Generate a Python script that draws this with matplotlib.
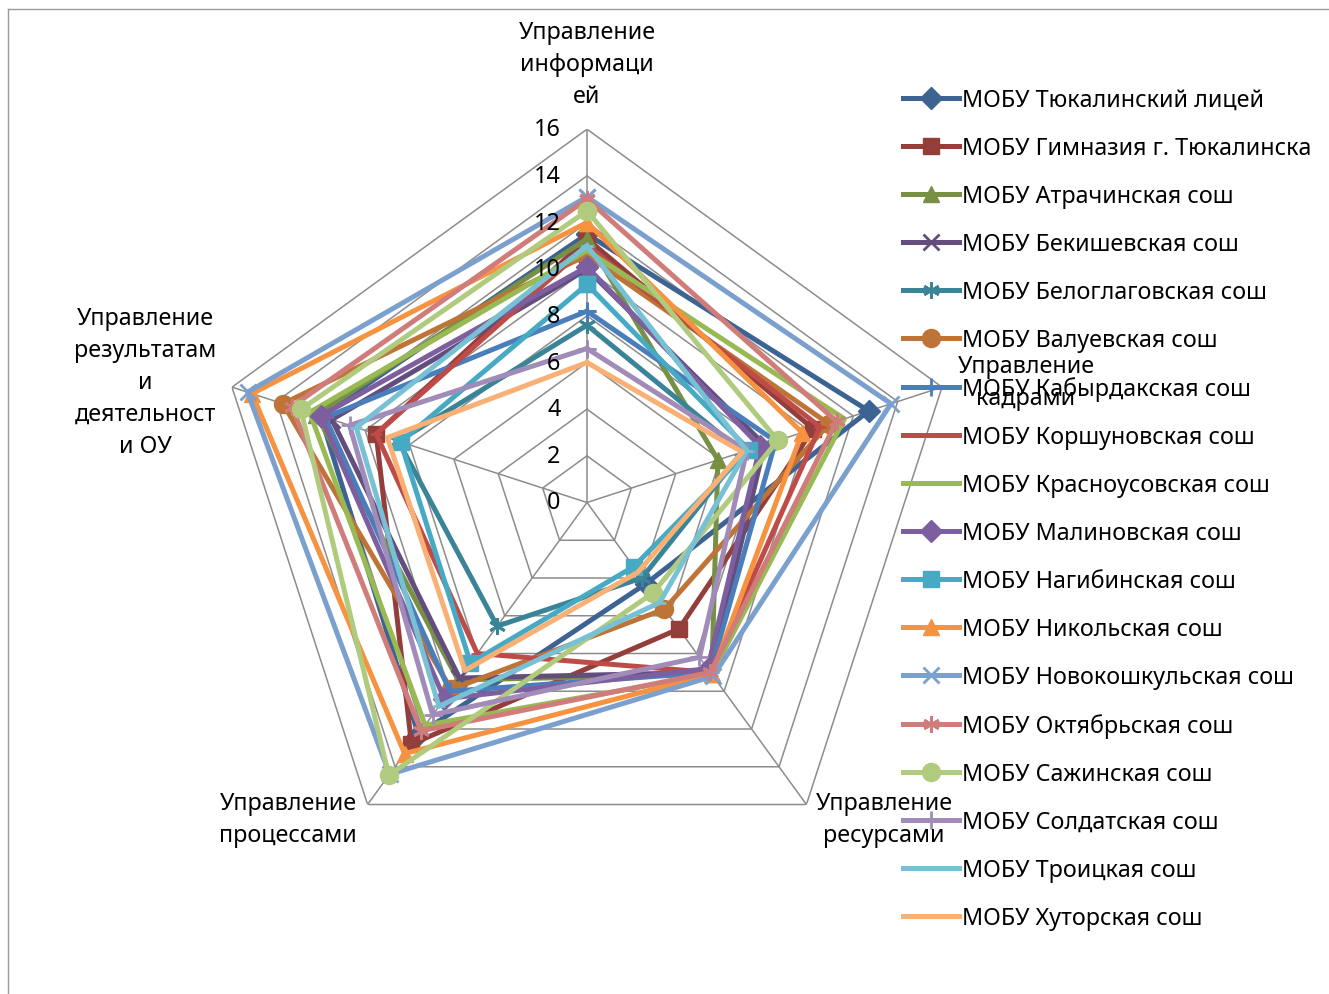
import numpy as np
import matplotlib
matplotlib.use('Agg')
import matplotlib.pyplot as plt
from matplotlib.lines import Line2D

plt.rcParams['font.family'] = ['Noto Sans', 'DejaVu Sans']

# ---------------- data ----------------
categories = ["Управление\nинформаци\nей", "Управление\nкадрами", "Управление\nресурсами",
              "Управление\nпроцессами", "Управление\nрезультатам\nи\nдеятельност\nи ОУ"]
schools = ["МОБУ Тюкалинский лицей", "МОБУ Гимназия г. Тюкалинска", "МОБУ Атрачинская сош",
           "МОБУ Бекишевская сош", "МОБУ Белоглаговская сош", "МОБУ Валуевская сош",
           "МОБУ Кабырдакская сош", "МОБУ Коршуновская сош", "МОБУ Красноусовская сош",
           "МОБУ Малиновская сош", "МОБУ Нагибинская сош", "МОБУ Никольская сош",
           "МОБУ Новокошкульская сош", "МОБУ Октябрьская сош", "МОБУ Сажинская сош",
           "МОБУ Солдатская сош", "МОБУ Троицкая сош", "МОБУ Хуторская сош"]
tyukalinsky = [11.5, 12.7, 4.3, 12.3, 12.0]
gimnazia = [11.3, 10.2, 6.7, 12.8, 9.5]
atrachinskaya = [11.3, 5.9, 9.1, 9.4, 12.2]
bekishevskaya = [10.0, 8.0, 9.0, 9.3, 11.5]
beloglagovskaya = [7.6, 7.0, 4.0, 6.55, 8.5]
valuevskaya = [10.6, 10.9, 5.65, 9.9, 13.7]
kabyrdakskaya = [8.2, 8.5, 9.0, 10.0, 11.8]
korshunovskaya = [11.0, 10.5, 9.0, 8.0, 9.5]
krasnousovskaya = [10.8, 11.6, 9.1, 11.8, 12.5]
malinovskaya = [10.1, 7.8, 8.8, 10.4, 12.0]
nagibinskaya = [9.35, 7.3, 3.4, 8.5, 8.4]
nikolskaya = [12.0, 9.7, 9.1, 13.3, 15.1]
novokoshkulskaya = [13.1, 13.7, 9.2, 14.4, 15.3]
oktyabrskaya = [13.0, 11.25, 9.0, 12.1, 13.3]
sazhinskaya = [12.5, 8.6, 4.8, 14.45, 12.9]
soldatskaya = [6.6, 7.2, 8.2, 11.25, 10.7]
troitskaya = [11.0, 7.2, 5.3, 10.8, 10.4]
khutorskaya = [6.0, 7.0, 3.7, 8.9, 9.0]
ticks = [0, 2, 4, 6, 8, 10, 12, 14, 16]

series = [tyukalinsky, gimnazia, atrachinskaya, bekishevskaya, beloglagovskaya, valuevskaya,
          kabyrdakskaya, korshunovskaya, krasnousovskaya, malinovskaya, nagibinskaya, nikolskaya,
          novokoshkulskaya, oktyabrskaya, sazhinskaya, soldatskaya, troitskaya, khutorskaya]

# ---------------- styles ----------------
colors = ["#3D6392", "#943E3B", "#779044", "#634D7D", "#3A8498", "#BE7436",
          "#4A7EBB", "#BE4B48", "#98B954", "#7D5FA0", "#46AAC5", "#F69240",
          "#7BA0CD", "#D07C7A", "#B0CB7E", "#A08BB9", "#78C1D4", "#F9B074"]
star = (6, 2, 0)
markers = ['D', 's', '^', 'x', star, 'o', '+', '_', 'None'] * 2
msizes = [11, 11, 12, 11, 12, 13, 13, 8, 0] * 2

W, H = 1329, 995
fig = plt.figure(figsize=(W / 100, H / 100), dpi=100)
FS = 16.8

cx, cy, R = 587, 503.5, 373.3
ax = fig.add_axes([(cx - R) / W, (H - cy - R) / H, 2 * R / W, 2 * R / H], projection='polar')
ax.set_theta_offset(np.pi / 2)
ax.set_theta_direction(-1)
ax.set_ylim(0, 16)
ax.grid(False)
ax.spines['polar'].set_visible(False)
ax.set_xticks([])
ax.set_yticks([])
ax.patch.set_visible(False)

n = len(categories)
theta = np.arange(n) * 2 * np.pi / n
theta_c = np.append(theta, theta[0])

grid_col = '#8C8C8C'
for lev in ticks[1:]:
    ax.plot(theta_c, [lev] * (n + 1), color=grid_col, lw=1.1, zorder=1)
for t in theta:
    ax.plot([t, t], [0, 16], color=grid_col, lw=1.1, zorder=1)

for v in ticks:
    ax.annotate(str(v), xy=(0, v), xytext=(-19, 0), textcoords='offset points',
                ha='right', va='center', fontsize=FS, color='#000000', zorder=100)

handles = []
for i, (vals, col) in enumerate(zip(series, colors)):
    mk = markers[i]
    mew = 2.0 if mk in ('x', '+', '_') or mk == star else 1.0
    ax.plot(theta_c, list(vals) + [vals[0]], color=col, lw=3.6, marker=mk,
            markersize=msizes[i], markerfacecolor=col, markeredgecolor=col,
            markeredgewidth=mew, zorder=3 + i, clip_on=False)
    handles.append(Line2D([], [], color=col, lw=3.6, marker=mk, markersize=msizes[i],
                          markerfacecolor=col, markeredgecolor=col, markeredgewidth=mew))

fig.legend(handles, schools, loc='upper left', bbox_to_anchor=(903 / W, 1 - 89 / H),
           frameon=False, borderpad=0, borderaxespad=0, handlelength=2.4,
           handletextpad=0.12, labelspacing=1.03, fontsize=FS)

# category labels
label_pos = [(587, 65), (1026, 383), (884, 820), (288, 820), (145, 383)]
for lab, (x, y) in zip(categories, label_pos):
    fig.text(x / W, 1 - y / H, lab, ha='center', va='center', fontsize=FS,
             linespacing=1.45, color='#000000', zorder=50)

# chart frame (left and top edges)
fig.add_artist(Line2D([8 / W, 8 / W], [0, 1 - 10 / H], transform=fig.transFigure,
                      color='#9A9A9A', lw=1))
fig.add_artist(Line2D([8 / W, 1], [1 - 10 / H, 1 - 10 / H], transform=fig.transFigure,
                      color='#9A9A9A', lw=1))

fig.savefig('out.png', dpi=100, facecolor='white')
